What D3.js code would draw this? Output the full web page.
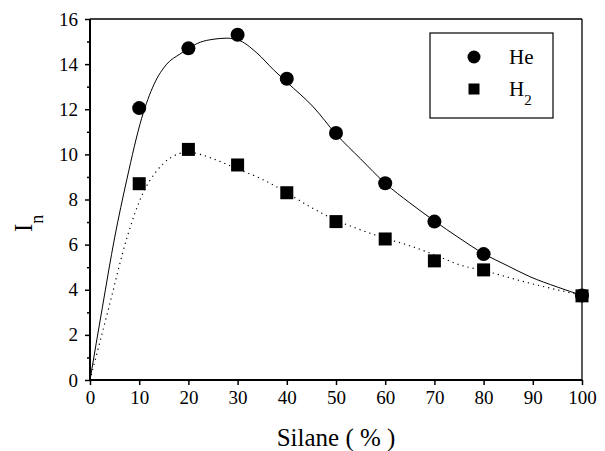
<!DOCTYPE html>
<html lang="en">
<head>
<meta charset="utf-8">
<title>In vs Silane</title>
<script src="https://d3js.org/d3.v7.min.js"></script>
<style>
  body { margin: 0; background: #fff; }
  svg text { font-family: "Liberation Serif", "Times New Roman", Times, "DejaVu Serif", serif; }
</style>
</head>
<body>
<script>
// measured points
var silane = [10, 20, 30, 40, 50, 60, 70, 80, 100];
var heVals = [12.05, 14.7, 15.3, 13.35, 10.95, 8.72, 7.02, 5.58, 3.75];
var h2Vals = [8.7, 10.22, 9.53, 8.3, 7.02, 6.25, 5.28, 4.88, 3.73];

// fitted curves
var heFitX = [0, 2.5, 5, 7.5, 10.5, 13, 15.6, 18.3, 20, 22.4, 25, 27.8, 30, 33.9, 37.3, 40, 45.4, 50, 55, 60, 65, 70, 75, 80, 85, 89.4, 95, 100];
var heFitY = [0, 3.2, 6.3, 8.9, 11.6, 13.1, 14.0, 14.45, 14.7, 14.97, 15.1, 15.15, 15.08, 14.5, 13.75, 13.2, 12.1, 10.9, 9.8, 8.72, 7.85, 7.05, 6.3, 5.6, 5.05, 4.58, 4.12, 3.75];
var h2FitX = [0, 3.7, 7.5, 10.8, 13.5, 16.3, 20, 22.4, 25.7, 30, 34.6, 40, 44.7, 50, 54.2, 60, 65, 70, 75.2, 80, 89.4, 100];
var h2FitY = [0, 3.1, 6.3, 8.3, 9.25, 9.84, 10.1, 10.0, 9.75, 9.35, 8.94, 8.3, 7.68, 7.08, 6.72, 6.28, 5.95, 5.55, 5.1, 4.85, 4.29, 3.75];

var xTicks = [0, 10, 20, 30, 40, 50, 60, 70, 80, 90, 100];
var yTicks = [0, 2, 4, 6, 8, 10, 12, 14, 16];
var yMinor = [1, 3, 5, 7, 9, 11, 13, 15];

var width = 605, height = 451;
var mLeft = 90, mRight = 582, mTop = 19, mBottom = 380;

var svg = d3.select("body").append("svg")
  .attr("width", width)
  .attr("height", height);

var x = d3.scaleLinear().domain([0, 100]).range([mLeft, mRight]);
var y = d3.scaleLinear().domain([0, 16]).range([mBottom, mTop]);

// frame top/right
svg.append("line")
  .attr("x1", mLeft).attr("x2", mRight).attr("y1", mTop).attr("y2", mTop)
  .attr("stroke", "#000").attr("stroke-width", 1.3);
svg.append("line")
  .attr("x1", mRight).attr("x2", mRight).attr("y1", mTop).attr("y2", mBottom)
  .attr("stroke", "#000").attr("stroke-width", 1.3);

// axes
var xAxis = svg.append("g")
  .attr("transform", "translate(0," + mBottom + ")")
  .call(d3.axisBottom(x).tickValues(xTicks).tickSize(5).tickPadding(5).tickFormat(d3.format("d")));
var yAxis = svg.append("g")
  .attr("transform", "translate(" + mLeft + ",0)")
  .call(d3.axisLeft(y).tickValues(yTicks).tickSize(5).tickPadding(7).tickFormat(d3.format("d")));
svg.append("g")
  .attr("transform", "translate(" + mLeft + ",0)")
  .call(d3.axisLeft(y).tickValues(yMinor).tickSize(3).tickFormat(""))
  .select(".domain").remove();

xAxis.select(".domain").remove();
yAxis.select(".domain").remove();
svg.append("line")
  .attr("x1", mLeft - 1).attr("x2", mRight).attr("y1", mBottom).attr("y2", mBottom)
  .attr("stroke", "#000").attr("stroke-width", 2);
svg.append("line")
  .attr("x1", mLeft).attr("x2", mLeft).attr("y1", mTop).attr("y2", mBottom + 1)
  .attr("stroke", "#000").attr("stroke-width", 2);
svg.selectAll(".tick line").attr("stroke-width", 1.5);
svg.selectAll("g").attr("font-family", null).attr("font-size", null);
svg.selectAll(".tick text")
  .style("font-size", "19px")
  .attr("fill", "#000");
xAxis.selectAll(".tick text").attr("dy", "0.75em");

// fitted curves
var line = d3.line()
  .x(function(d) { return x(d[0]); })
  .y(function(d) { return y(d[1]); })
  .curve(d3.curveMonotoneX);

svg.append("path")
  .datum(heFitX.map(function(v, i) { return [v, heFitY[i]]; }))
  .attr("d", line)
  .attr("fill", "none").attr("stroke", "#000").attr("stroke-width", 1);

svg.append("path")
  .datum(h2FitX.map(function(v, i) { return [v, h2FitY[i]]; }))
  .attr("d", line)
  .attr("fill", "none").attr("stroke", "#000").attr("stroke-width", 1.2)
  .attr("stroke-dasharray", "1.2,4");

// markers
svg.append("g").selectAll("circle")
  .data(silane)
  .enter().append("circle")
  .attr("cx", function(d) { return x(d); })
  .attr("cy", function(d, i) { return y(heVals[i]); })
  .attr("r", 7)
  .attr("fill", "#000");

var sq = 13;
svg.append("g").selectAll("rect")
  .data(silane)
  .enter().append("rect")
  .attr("x", function(d) { return x(d) - sq / 2; })
  .attr("y", function(d, i) { return y(h2Vals[i]) - sq / 2; })
  .attr("width", sq).attr("height", sq)
  .attr("fill", "#000");

// legend
var lg = svg.append("g");
lg.append("rect")
  .attr("x", 430).attr("y", 33).attr("width", 123).attr("height", 85)
  .attr("fill", "#fff").attr("stroke", "#000").attr("stroke-width", 1.2);
lg.append("circle").attr("cx", 474).attr("cy", 57).attr("r", 6.5).attr("fill", "#000");
lg.append("text").attr("x", 509).attr("y", 64)
  .style("font-size", "21px").text("He");
lg.append("rect").attr("x", 468.5).attr("y", 83.5).attr("width", 11).attr("height", 11).attr("fill", "#000");
var h2t = lg.append("text").attr("x", 509).attr("y", 96)
  .style("font-size", "21px");
h2t.append("tspan").text("H");
h2t.append("tspan").attr("dy", 9).style("font-size", "15px").text("2");

// axis titles
svg.append("text")
  .attr("x", (mLeft + mRight) / 2).attr("y", 446)
  .attr("text-anchor", "middle")
  .style("font-size", "25px")
  .text("Silane ( % )");

var yt = svg.append("text")
  .attr("transform", "translate(32,232) rotate(-90)")
  .style("font-size", "25px");
yt.append("tspan").text("I");
yt.append("tspan").attr("dy", 11).style("font-size", "18px").text("n");
</script>
</body>
</html>
